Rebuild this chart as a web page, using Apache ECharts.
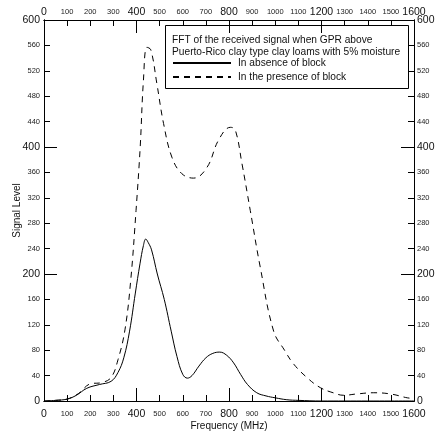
<!DOCTYPE html>
<html>
<head>
<meta charset="utf-8">
<script src="https://cdn.jsdelivr.net/npm/echarts@6/dist/echarts.min.js"></script>
<style>
  html, body { margin: 0; padding: 0; background: #fff; }
  #chart { width: 437px; height: 433px; }
</style>
</head>
<body>
<div id="chart"></div>
<script>
// Spectrum of the received GPR signal (frequency in MHz, signal level)
const freqAbsent = [0, 50, 100, 140, 185, 240, 290, 320, 345, 370, 395, 415, 430, 440, 450, 465, 490, 520, 550, 575, 600, 620, 640, 670, 700, 730, 760, 790, 820, 850, 880, 920, 960, 1000, 1050, 1100, 1200, 1300, 1400, 1500, 1600];
const levelAbsent = [0, 1, 3, 9, 20, 26, 31, 45, 68, 110, 170, 216, 245, 255, 250, 238, 200, 160, 110, 70, 42, 36, 40, 55, 68, 75, 77, 72, 60, 42, 26, 13, 8, 5, 2, 1, 0, 0, 0, 0, 0];

const freqPresent = [0, 50, 100, 150, 200, 250, 290, 320, 350, 375, 398, 416, 430, 445, 462, 488, 517, 553, 596, 647, 705, 755, 806, 827, 856, 892, 935, 993, 1040, 1080, 1140, 1195, 1250, 1296, 1350, 1426, 1500, 1571, 1600];
const levelPresent = [0, 1, 3, 12, 27, 29, 37, 65, 112, 190, 300, 400, 505, 557, 553, 500, 437, 384, 358, 351, 368, 411, 431, 427, 374, 300, 211, 110, 80, 58, 36, 21, 13, 9, 11, 13, 11, 5, 4];

const seriesNames = ['In absence of block', 'In the presence of block'];
const titleLines = ['FFT of the received signal when GPR above', 'Puerto-Rico clay type clay loams with 5% moisture'];

const xMin = 0, xMax = 1600, xMinorStep = 100, xMajorStep = 400;
const yMin = 0, yMax = 600, yMinorStep = 40, yMajorStep = 200;

const FONT = 'Liberation Sans, Arial, sans-serif';
const INK = '#000';

function pairs(xs, ys) { return xs.map((x, i) => [x, ys[i]]); }

function tickLabel(major, margin) {
  return {
    show: true, margin, showMinLabel: true, showMaxLabel: true,
    fontFamily: FONT,
    color: '#111',
    formatter: v => (v % major === 0 ? '{big|' + v + '}' : '{small|' + v + '}'),
    rich: {
      big: { fontSize: 10.5, lineHeight: 12, fontFamily: FONT, color: '#111' },
      small: { fontSize: 7.5, lineHeight: 12, fontFamily: FONT, color: '#222' }
    }
  };
}

function axisDef(kind, position, step, tickLen, labelMargin, extra) {
  const isX = kind === 'x';
  return Object.assign({
    type: 'value', position,
    min: isX ? xMin : yMin, max: isX ? xMax : yMax, interval: step,
    nameMoveOverlap: false,
    axisLine: { show: true, onZero: false, lineStyle: { color: INK, width: 1 } },
    axisTick: { show: true, inside: true, length: tickLen, lineStyle: { color: INK, width: 1 } },
    axisLabel: labelMargin != null ? tickLabel(isX ? xMajorStep : yMajorStep, labelMargin) : { show: false },
    splitLine: { show: false }
  }, extra || {});
}

const chart = echarts.init(document.getElementById('chart'), null, { renderer: 'canvas' });

const option = {
  backgroundColor: '#fff',
  animation: false,
  grid: { left: 44, right: 23, top: 20, bottom: 32, containLabel: false, outerBoundsMode: 'none' },
  xAxis: [
    axisDef('x', 'bottom', xMinorStep, 6, 7, {
      name: 'Frequency (MHz)', nameLocation: 'middle', nameGap: 20,
      nameTextStyle: { fontFamily: FONT, fontSize: 10, color: '#111' }
    }),
    axisDef('x', 'bottom', xMajorStep, 13, null),
    axisDef('x', 'top', xMinorStep, 6, 2),
    axisDef('x', 'top', xMajorStep, 13, null)
  ],
  yAxis: [
    axisDef('y', 'left', yMinorStep, 6, 4, {
      name: 'Signal Level', nameLocation: 'middle', nameGap: 22,
      nameTextStyle: { fontFamily: FONT, fontSize: 10, color: '#111' }
    }),
    axisDef('y', 'left', yMajorStep, 13, null),
    axisDef('y', 'right', yMinorStep, 6, 3),
    axisDef('y', 'right', yMajorStep, 13, null)
  ],
  legend: {
    orient: 'vertical',
    left: 172, top: 58,
    itemWidth: 58, itemHeight: 10, itemGap: 4,
    padding: 0,
    itemStyle: { opacity: 0 },
    textStyle: { fontFamily: FONT, fontSize: 10.2, color: '#111', padding: [0, 0, 0, 2] },
    data: seriesNames
  },
  graphic: [
    {
      type: 'rect', left: 165, top: 25, z: 10,
      shape: { width: 243, height: 63 },
      style: { fill: 'rgba(255,255,255,0)', stroke: INK, lineWidth: 1 }
    },
    {
      type: 'text', left: 172, top: 35, z: 10,
      style: { text: titleLines[0], fontFamily: FONT, fontSize: 10.2, fill: '#111' }
    },
    {
      type: 'text', left: 172, top: 47, z: 10,
      style: { text: titleLines[1], fontFamily: FONT, fontSize: 10.2, fill: '#111' }
    }
  ],
  series: [
    {
      name: seriesNames[0], type: 'line', xAxisIndex: 0, yAxisIndex: 0,
      data: pairs(freqAbsent, levelAbsent),
      smooth: 0.4, showSymbol: false, symbol: 'none',
      lineStyle: { color: INK, width: 1, type: 'solid' },
      itemStyle: { color: INK }
    },
    {
      name: seriesNames[1], type: 'line', xAxisIndex: 0, yAxisIndex: 0,
      data: pairs(freqPresent, levelPresent),
      smooth: 0.4, showSymbol: false, symbol: 'none',
      lineStyle: { color: INK, width: 1, type: [6, 5] },
      itemStyle: { color: INK }
    }
  ]
};

chart.setOption(option);
</script>
</body>
</html>
